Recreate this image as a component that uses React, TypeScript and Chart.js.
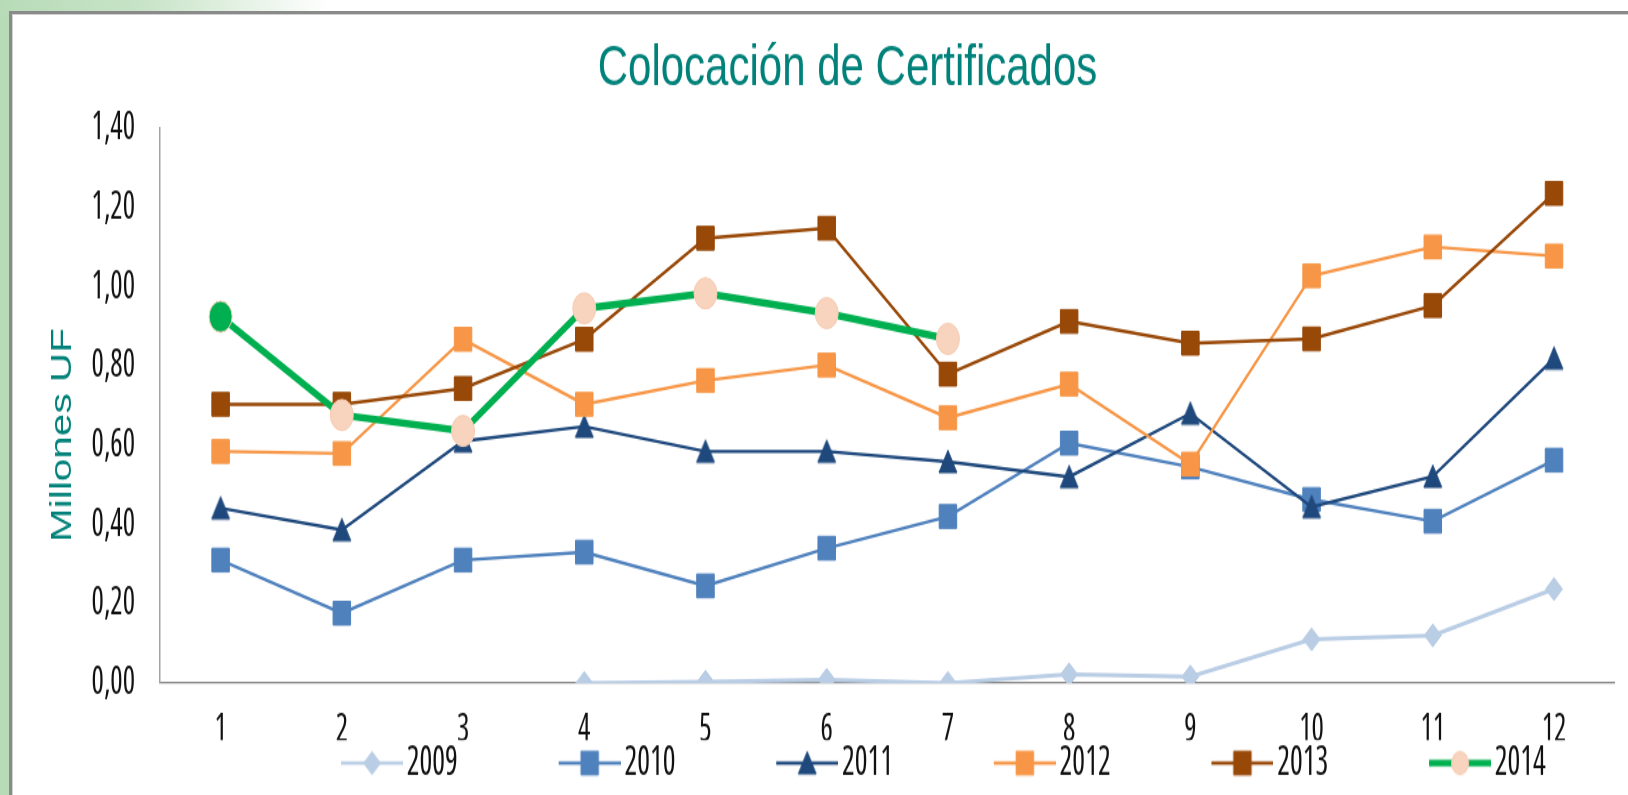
import React, { useEffect, useRef } from 'react';
import { Chart, registerables } from 'chart.js';

Chart.register(...registerables);

// ---------------- data ----------------
const months = ['1', '2', '3', '4', '5', '6', '7', '8', '9', '10', '11', '12'];
const seriesNames = ['2009', '2010', '2011', '2012', '2013', '2014'];
const values2009 = [null, null, null, 0.0, 0.003, 0.008, 0.0, 0.022, 0.016, 0.11, 0.12, 0.237];
const values2010 = [0.31, 0.176, 0.31, 0.33, 0.245, 0.34, 0.42, 0.605, 0.545, 0.463, 0.408, 0.562];
const values2011 = [0.441, 0.386, 0.61, 0.647, 0.584, 0.584, 0.558, 0.52, 0.68, 0.444, 0.521, 0.819];
const values2012 = [0.584, 0.579, 0.867, 0.703, 0.763, 0.802, 0.669, 0.754, 0.552, 1.027, 1.1, 1.077];
const values2013 = [0.703, 0.703, 0.743, 0.867, 1.122, 1.147, 0.779, 0.912, 0.857, 0.868, 0.952, 1.235];
const values2014 = [0.924, 0.676, 0.636, 0.945, 0.983, 0.933, 0.868, null, null, null, null, null];
const yTickLabels = ['0,00', '0,20', '0,40', '0,60', '0,80', '1,00', '1,20', '1,40'];
const chartTitle = 'Colocación de Certificados';
const yAxisTitle = 'Millones UF';

// ---------------- styles ----------------
const STRETCH = 1.35;
const CANVAS_W = 1628;
const CANVAS_H = 596;
const TEAL = '#00827a';
const NARROW_FAMILY = "'Open Sans', 'Liberation Sans', sans-serif";
const NARROW_WEIGHT = 'condensed';
const SANS = "'Liberation Sans', Arial, sans-serif";
const TICK_SIZE = 29;
const LEGEND_SIZE = 30;
const LEGEND_SPACING = 217.6; // distance between legend items
const LEGEND_FIRST_TEXT_X = 409; // where the first legend text starts
const LEGEND_TEXT_Y = 565.2; // canvas y of legend text centre
const LEGEND_PAD = 2;
const PLOT_BOTTOM = 505.9; // canvas y of the x axis
const CHART_AREA_LEFT = 160;
const CHART_AREA_RIGHT = 1619;

type Kind = 'diamond' | 'square' | 'triangle' | 'circle';
interface SeriesStyle {
  color: string;
  width: number;
  legendWidth: number;
  kind: Kind;
  fill: string;
  border: string;
}

const seriesStyles: SeriesStyle[] = [
  { color: '#b9cde5', width: 3, legendWidth: 2.6, kind: 'diamond', fill: '#b9cde5', border: '#b9cde5' },
  { color: '#4f81bd', width: 2.4, legendWidth: 2.4, kind: 'square', fill: '#4f81bd', border: '#4f81bd' },
  { color: '#1f497d', width: 2.4, legendWidth: 2.4, kind: 'triangle', fill: '#1f497d', border: '#1f497d' },
  { color: '#f79646', width: 2.4, legendWidth: 2.4, kind: 'square', fill: '#f79646', border: '#f79646' },
  { color: '#984807', width: 2.4, legendWidth: 2.4, kind: 'square', fill: '#984807', border: '#984807' },
  { color: '#00b050', width: 5.5, legendWidth: 5.2, kind: 'circle', fill: '#f8d3bd', border: '#f6cbb2' },
];
const firstPoint2014Fill = '#00b050';

function drawMarker(
  ctx: CanvasRenderingContext2D,
  kind: Kind,
  cx: number,
  cy: number,
  fill: string,
  border: string,
  circleR = 11.5
) {
  ctx.save();
  ctx.fillStyle = fill;
  ctx.strokeStyle = border;
  ctx.lineWidth = 1;
  ctx.beginPath();
  if (kind === 'square') {
    ctx.rect(cx - 8.75, cy - 8.75, 17.5, 17.5);
  } else if (kind === 'diamond') {
    ctx.moveTo(cx, cy - 8.5);
    ctx.lineTo(cx + 8.5, cy);
    ctx.lineTo(cx, cy + 8.5);
    ctx.lineTo(cx - 8.5, cy);
    ctx.closePath();
  } else if (kind === 'triangle') {
    ctx.moveTo(cx, cy - 8.5);
    ctx.lineTo(cx + 9, cy + 8);
    ctx.lineTo(cx - 9, cy + 8);
    ctx.closePath();
  } else {
    ctx.arc(cx, cy, circleR, 0, Math.PI * 2);
  }
  ctx.fill();
  ctx.stroke();
  ctx.restore();
}

function makeMarkerImage(kind: Kind, fill: string, border: string): HTMLCanvasElement {
  const c = document.createElement('canvas');
  c.width = 28;
  c.height = 28;
  const ctx = c.getContext('2d')!;
  drawMarker(ctx, kind, 14, 14, fill, border);
  return c;
}

// legend sample: line + marker, whose right end sits 4px before the text
function makeLegendImage(st: SeriesStyle, box: number): HTMLCanvasElement {
  const w = Math.round(box + 22);
  const h = 40;
  const c = document.createElement('canvas');
  c.width = w;
  c.height = h;
  const ctx = c.getContext('2d')!;
  const y = h / 2;
  const x1 = w;
  const x0 = w - 62;
  ctx.strokeStyle = st.color;
  ctx.lineWidth = st.legendWidth;
  ctx.beginPath();
  ctx.moveTo(x0, y);
  ctx.lineTo(x1, y);
  ctx.stroke();
  drawMarker(ctx, st.kind, (x0 + x1) / 2, y, st.fill, st.border, 8.5);
  return c;
}

const yTitlePlugin = {
  id: 'yTitleCustom',
  afterDraw(chart: any) {
    const ctx = chart.ctx as CanvasRenderingContext2D;
    ctx.save();
    ctx.translate(63, 435 / STRETCH);
    ctx.rotate(-Math.PI / 2);
    ctx.font = `30px ${SANS}`;
    ctx.fillStyle = TEAL;
    ctx.textAlign = 'center';
    ctx.textBaseline = 'middle';
    ctx.fillText(yAxisTitle, 0, 0);
    ctx.restore();
  },
};

function buildChart(canvas: HTMLCanvasElement): Chart {
  // measure legend text to lay the legend out like the reference
  const mctx = document.createElement('canvas').getContext('2d')!;
  mctx.font = `${NARROW_WEIGHT} ${LEGEND_SIZE}px ${NARROW_FAMILY}`;
  const textW = mctx.measureText(seriesNames[0]).width;
  const half = LEGEND_SIZE / 2;
  const p = LEGEND_PAD;
  const box = LEGEND_SPACING - half - textW - p;
  const rowWidth = seriesNames.length * LEGEND_SPACING;
  const rowStart = (CHART_AREA_LEFT + p + CHART_AREA_RIGHT - rowWidth) / 2;
  const legendShift = LEGEND_FIRST_TEXT_X - (rowStart + box + half);
  const legendTop = LEGEND_TEXT_Y - half - p;
  const xAxisHeight = legendTop - PLOT_BOTTOM;
  const legendBottom = legendTop + LEGEND_SIZE + p + 10;
  const padBottom = CANVAS_H - legendBottom;

  const legendShiftPlugin = {
    id: 'legendShift',
    afterLayout(chart: any) {
      const lg = chart.legend;
      if (lg) {
        lg.left += legendShift;
        lg.right += legendShift;
      }
    },
  };

  const allValues = [values2009, values2010, values2011, values2012, values2013, values2014];
  const legendImages = seriesStyles.map((st) => makeLegendImage(st, box));
  const triangleImg = makeMarkerImage('triangle', seriesStyles[2].fill, seriesStyles[2].border);

  const datasets = seriesNames.map((name, i) => {
    const st = seriesStyles[i];
    const base: any = {
      label: name,
      data: allValues[i],
      borderColor: st.color,
      backgroundColor: st.fill,
      borderWidth: st.width,
      pointBackgroundColor: st.fill,
      pointBorderColor: st.border,
      pointBorderWidth: 1,
      tension: 0,
      fill: false,
      order: seriesNames.length - 1 - i,
      spanGaps: false,
    };
    if (st.kind === 'square') {
      base.pointStyle = 'rect';
      base.pointRadius = 8.75 / Math.SQRT1_2;
    } else if (st.kind === 'diamond') {
      base.pointStyle = 'rectRot';
      base.pointRadius = 8.5;
    } else if (st.kind === 'triangle') {
      base.pointStyle = triangleImg;
      base.pointRadius = 9;
    } else {
      base.pointStyle = 'circle';
      base.pointRadius = 11.5;
      base.pointBackgroundColor = allValues[i].map((_, k) => (k === 0 ? firstPoint2014Fill : st.fill));
    }
    base.pointHoverRadius = base.pointRadius;
    return base;
  });

  const defaultGen = (Chart as any).defaults.plugins.legend.labels.generateLabels;
  const tickFont = { family: NARROW_FAMILY, size: TICK_SIZE, weight: NARROW_WEIGHT };

  return new Chart(canvas, {
    type: 'line',
    data: { labels: months, datasets },
    options: {
      animation: false,
      responsive: false,
      maintainAspectRatio: false,
      devicePixelRatio: 1,
      layout: { padding: { left: 76, right: CANVAS_W - CHART_AREA_RIGHT, top: 0, bottom: padBottom } },
      plugins: {
        title: {
          display: true,
          text: chartTitle,
          color: TEAL,
          font: { family: SANS, size: 42, weight: 'normal', lineHeight: 1.2 },
          padding: { top: 26.7, bottom: 17.7 },
        },
        legend: {
          position: 'bottom',
          fullSize: false,
          labels: {
            usePointStyle: true,
            pointStyleWidth: box,
            padding: p,
            color: '#111111',
            font: { family: NARROW_FAMILY, size: LEGEND_SIZE, weight: NARROW_WEIGHT },
            generateLabels: (ch: any) =>
              defaultGen(ch)
                .map((it: any) => ({ ...it, pointStyle: legendImages[it.datasetIndex] }))
                .sort((a: any, b: any) => a.datasetIndex - b.datasetIndex),
          },
        },
        tooltip: { enabled: false },
      },
      scales: {
        x: {
          offset: true,
          grid: { display: false, drawTicks: false },
          border: { display: true, color: '#8a8a8a', width: 1.3 },
          ticks: {
            color: '#111111',
            font: tickFont,
            padding: 17,
            maxRotation: 0,
            autoSkip: false,
          },
          afterFit: (s: any) => {
            s.height = xAxisHeight;
          },
        },
        y: {
          min: 0,
          max: 1.4,
          grid: { display: false, drawTicks: false },
          border: { display: true, color: '#a3a3a3', width: 1.5 },
          ticks: {
            stepSize: 0.2,
            padding: 25,
            color: '#111111',
            font: tickFont,
            callback: (v: any) => yTickLabels[Math.round(Number(v) / 0.2)] ?? '',
          },
          afterFit: (s: any) => {
            s.width = CHART_AREA_LEFT - 76;
          },
        },
      },
    } as any,
    plugins: [yTitlePlugin, legendShiftPlugin],
  });
}

export default function App() {
  const ref = useRef<HTMLCanvasElement | null>(null);

  useEffect(() => {
    const canvas = ref.current;
    if (!canvas) return;
    let chart: Chart | null = buildChart(canvas);
    let alive = true;
    const rebuild = () => {
      if (!alive) return;
      if (chart) chart.destroy();
      chart = buildChart(canvas);
    };
    if ((document as any).fonts && (document as any).fonts.load) {
      Promise.all([
        (document as any).fonts.load(`${NARROW_WEIGHT} ${LEGEND_SIZE}px 'Open Sans'`),
        (document as any).fonts.load(`42px 'Liberation Sans'`),
      ])
        .then(rebuild)
        .catch(() => undefined);
    }
    return () => {
      alive = false;
      if (chart) chart.destroy();
      chart = null;
    };
  }, []);

  return (
    <div
      style={{
        position: 'fixed',
        left: 0,
        top: 0,
        width: 1628,
        height: 795,
        overflow: 'hidden',
        background: '#ffffff',
      }}
    >
      <canvas
        ref={ref}
        width={CANVAS_W}
        height={CANVAS_H}
        style={{
          position: 'absolute',
          left: 0,
          top: 0,
          width: CANVAS_W,
          height: CANVAS_H,
          transform: `scaleY(${STRETCH})`,
          transformOrigin: '0 0',
        }}
      />
      <div style={{ position: 'absolute', left: 0, top: 0, width: 9, height: 795, background: '#b7dbb7' }} />
      <div
        style={{
          position: 'absolute',
          left: 0,
          top: 0,
          width: 330,
          height: 11,
          background: 'linear-gradient(to right, #b7dbb7 0%, #c9e4c9 45%, #ffffff 100%)',
        }}
      />
      <div
        style={{
          position: 'absolute',
          left: 9,
          top: 11,
          width: 1660,
          height: 820,
          borderTop: '3px solid #8a8a8a',
          borderLeft: '3px solid #8a8a8a',
        }}
      />
      <div
        style={{
          position: 'absolute',
          left: 12,
          top: 14,
          width: 1660,
          height: 820,
          borderTop: '1px solid #d0d0d0',
          borderLeft: '1px solid #d0d0d0',
        }}
      />
    </div>
  );
}
